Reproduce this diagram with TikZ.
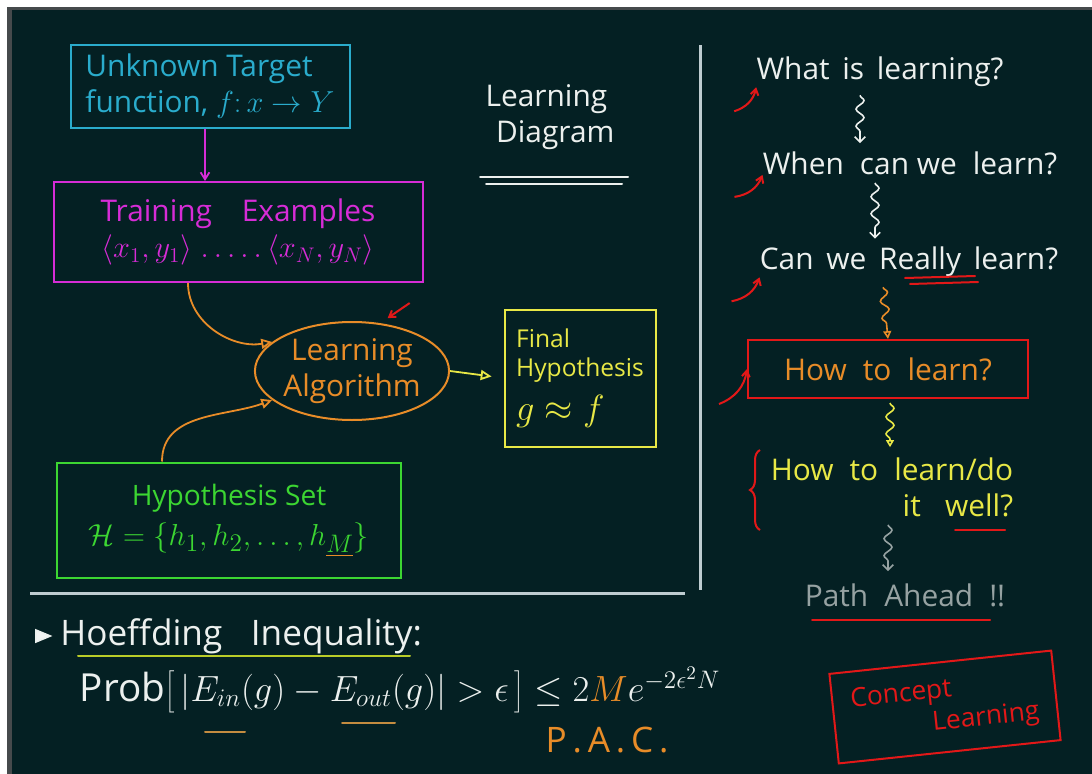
\documentclass[tikz,border=0pt]{standalone}
\usepackage{fontspec}
\setmainfont{Open Sans}
\usetikzlibrary{arrows.meta,positioning,shapes.geometric,calc,decorations.pathmorphing,decorations.pathreplacing}
\definecolor{board}{RGB}{4,32,35}
\definecolor{rim}{RGB}{70,74,76}
\definecolor{chalk}{RGB}{236,240,238}
\definecolor{rulegrey}{RGB}{190,204,208}
\definecolor{cyanchalk}{RGB}{42,172,204}
\definecolor{magchalk}{RGB}{214,44,214}
\definecolor{orgchalk}{RGB}{232,140,40}
\definecolor{yelchalk}{RGB}{232,232,70}
\definecolor{grnchalk}{RGB}{60,214,50}
\definecolor{redchalk}{RGB}{226,24,24}
\definecolor{greychalk}{RGB}{150,162,162}
\definecolor{olivechalk}{RGB}{186,204,40}
\definecolor{brownchalk}{RGB}{196,140,64}
\newlength\px
\setlength\px{0.02cm}
\newcommand{\hand}[1]{\fontsize{#1}{1.2\dimexpr#1pt\relax}\selectfont}
\tikzset{
  frame/.style={draw,line width=2\px,inner sep=0pt,align=left},
  chalkline/.style={line width=2\px,line cap=round},
  openarr/.style={-{Triangle[open,length=6.2pt,width=5.7pt]},line width=1.8\px},
  thinarr/.style={-{Straight Barb[length=4pt,width=5pt]},line width=1.8\px},
  redarr/.style={-{Straight Barb[length=3.4pt,width=4.5pt]},draw=redchalk,line width=2\px},
  wiggle/.style={decorate,decoration={snake,amplitude=4\px,segment length=17\px,post length=8\px},line width=1.6\px},
  question/.style={text=chalk,inner sep=0pt,font=\hand{17}}
}
\begin{document}
\begin{tikzpicture}[x=0.02cm,y=-0.02cm]
  \useasboundingbox (0,0) rectangle (1092,774);
  % board and rim
  \fill[white] (0,0) rectangle (1092,774);
  \fill[rim] (7,7) rectangle (1092,774);
  \fill[board] (12,10) rectangle (1092,774);
  % dividers
  \draw[rulegrey,line width=3\px] (700,45) -- (700,590);
  \draw[rulegrey,line width=3\px] (30,593) -- (685,593);

  % learning diagram
  \node[frame,draw=cyanchalk,text=cyanchalk,minimum width=279\px,minimum height=83\px,font=\hand{17}] (target) at (210,86)
    {Unknown Target\\ function, $f\colon x\to Y$};
  \node[frame,draw=magchalk,text=magchalk,minimum width=369\px,minimum height=100\px,font=\hand{17},align=center] (train) at (238,232)
    {Training\quad Examples\\ $\langle x_1,y_1\rangle \;.\,.\,.\,.\,.\, \langle x_N,y_N\rangle$};
  \node[ellipse,draw=orgchalk,line width=2\px,text=orgchalk,minimum width=176\px,minimum height=98\px,inner sep=0pt,align=center,font=\hand{17}] (algo) at (352,371)
    {Learning\\ Algorithm};
  \node[frame,draw=yelchalk,text=yelchalk,minimum width=151\px,minimum height=137\px,font=\hand{14}] (final) at (580,378)
    {Final\\ Hypothesis\\[6pt] {\hand{22}$g\approx f$}};
  \node[frame,draw=grnchalk,text=grnchalk,minimum width=344\px,minimum height=115\px,font=\hand{16},align=center] (hypo) at (229,520)
    {Hypothesis Set\\[4pt] {\hand{19}$\mathcal{H}=\{h_1,h_2,\ldots,h_{\textcolor{orgchalk}{\underline{\textcolor{grnchalk}{M}}}}\}$}};
  \node[text=chalk,align=left,font=\hand{17}] (title) at (550,117) {Learning\\ \hspace{6pt}Diagram};

  \draw[magchalk,thinarr] ($(target.south)+(-5,0)$) -- ($(train.north)+(-33,0)$);
  \draw[orgchalk,openarr] ($(train.south)+(-50,0)$) to[out=-90,in=190] (algo.160);
  \draw[orgchalk,openarr] ($(hypo.north)+(-67,0)$) to[out=90,in=200] (algo.200);
  \draw[yelchalk,openarr,shorten >=12\px] (algo.east) -- (final.west);
  \draw[redarr] ($(algo.60)+(30,-20)$) -- ($(algo.60)+(8,-5)$);
  % title underline
  \draw[chalk,chalkline] (480,177) -- (628,177);
  \draw[chalk,chalkline] (486,184) -- (622,184);

  % path of questions
  \node[question] (q1) at (880,72) {What\, is\, learning?};
  \node[question] (q2) at (910,163) {When\; can we\; learn?};
  \node[question] (q3) at (909,262) {Can\, we\, Really\, learn?};
  \node[frame,draw=redchalk,text=orgchalk,minimum width=280\px,minimum height=58\px,font=\hand{17},align=center] (q4) at (888,369) {How\; to\; learn?};
  \node[text=yelchalk,align=right,font=\hand{17},inner sep=0pt] (q5) at (892,487) {How\; to\; learn/do\\ it\;\; well?};
  \node[text=greychalk,font=\hand{17},inner sep=0pt] (q6) at (905,595) {Path\; Ahead\; !!};

  \draw[chalk,wiggle,-{Straight Barb[length=3pt]}] ($(q1.south)+(-20,8)$) -- ($(q2.north)+(-50,-8)$);
  \draw[chalk,wiggle,-{Straight Barb[length=3pt]}] ($(q2.south)+(-35,8)$) -- ($(q3.north)+(-34,-8)$);
  \draw[orgchalk,wiggle,-{Triangle[open,length=4.5pt,width=4.5pt]}] ($(q3.south)+(-26,10)$) -- (q4.north);
  \draw[yelchalk,wiggle,-{Triangle[open,length=4pt,width=4.5pt]}] ($(q4.south)+(2,4)$) -- ($(q5.north)+(-2,-10)$);
  \draw[greychalk,wiggle,-{Straight Barb[length=3pt]}] ($(q5.south)+(-4,8)$) -- ($(q6.north)+(-17,-12)$);

  \draw[redarr] ($(q1.south west)+(-22,24)$) to[bend right=30] (q1.south west);
  \draw[redarr] ($(q2.south west)+(-28,22)$) to[bend right=30] (q2.south west);
  \draw[redarr] ($(q3.south west)+(-28,24)$) to[bend right=30] (q3.south west);
  \draw[redarr] ($(q4.west)+(-28,35)$) to[bend right=30] (q4.west);
  \draw[redchalk,line width=2\px,decorate,decoration={brace,amplitude=10\px}] (760,530) -- (760,450);

  \draw[redchalk,chalkline] (905,278) -- (975,276);
  \draw[redchalk,chalkline] (910,284) -- (978,282);
  \draw[redchalk,chalkline] (955,530) -- (1005,530);
  \draw[redchalk,chalkline] (812,620) -- (990,620);

  % hoeffding
  \node[isosceles triangle,draw=chalk,fill=chalk!70,line width=1.5\px,minimum height=12\px,minimum width=12\px,inner sep=0pt] (bullet) at (40,636) {};
  \node[text=chalk,font=\hand{20},anchor=west,inner sep=0pt] (hoeff) at (60,636) {Hoeffding\;\; Inequality:};
  \draw[olivechalk,chalkline] (78,656) -- (410,656);
  \node[text=chalk,font=\hand{22},inner sep=0pt] (bound) at (400,690)
    {Prob$\Biggl[\,\bigl|E_{in}(g)-E_{out}(g)\bigr|>\epsilon\,\Biggr]\le 2\textcolor{orgchalk}{M}e^{-2\epsilon^2N}$};
  \draw[brownchalk,chalkline] (205,732) -- (245,732);
  \draw[brownchalk,chalkline] (342,723) -- (395,723);
  \node[text=orgchalk,font=\hand{20},inner sep=0pt] (pac) at (607,740) {P\,.\,A\,.\,C\,.};
  \node[frame,draw=redchalk,text=redchalk,rotate=6,minimum width=223\px,minimum height=90\px,font=\hand{15}] (concept) at (945,707)
    {Concept\\ \hspace{3em}Learning};
\end{tikzpicture}
\end{document}
